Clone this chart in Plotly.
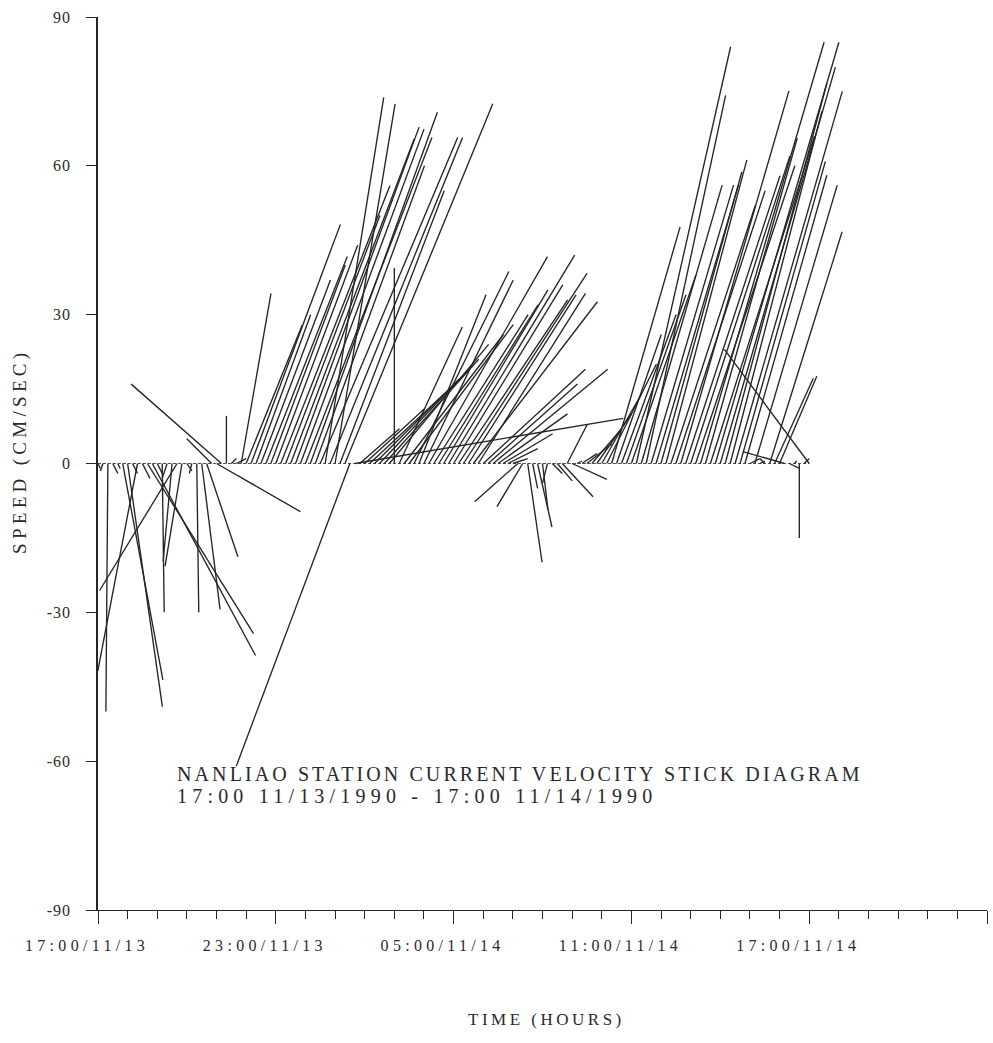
import plotly.graph_objects as go

# Current meter record, one sample every 10 minutes from 17:00 11/13/1990
SAMPLE_MINUTES = 10

# East (u) and north (v) velocity components, cm/s
east_cms = [
    0.5, -0.5, -0.4, 1.0, 0.5, 8.1, 7.0, 1.0, -8.0, 1.5,
    21.4, 20.8, 1.0, 0.4, -1.0, -1.8, -15.6, -3.4, 1.0, -0.5,
    0.4, 3.7, 6.3, -5.0, 16.9, -18.2, 0.0, 1.0, 2.0, 6.0,
    11.3, 18.0, 11.0, 14.0, 16.4, 15.0, 16.5, 22.0, 19.0, 24.9,
    24.9, 24.9, 25.5, 25.6, 22.0, 27.7, 11.8, 26.7, 12.1, 21.0,
    29.8, -22.9, 54.1, 8.0, 12.0, 15.0, 17.0, 18.0, 19.0, 20.0,
    0.0, 12.7, 20.0, 21.0, 19.1, 13.5, 18.0, 23.9, 19.0, 20.0,
    21.0, 25.4, 22.0, 22.0, 24.9, 21.7, 25.0, 21.6, 20.6, 18.0,
    23.1, 14.0, 10.0, 6.0, 3.0, -8.7, -5.2, 2.9, 1.0, 2.9,
    1.1, -1.0, 2.0, 3.0, 6.2, 4.0, 7.0, 1.0, 3.0, 5.0,
    6.0, 7.0, 8.0, 10.0, 13.8, 9.0, 11.0, 12.0, 13.0, 19.0,
    16.3, 16.0, 16.6, 16.6, 16.3, 16.3, 17.0, 18.0, 21.8, 19.0,
    20.0, 20.0, 24.9, 18.5, 21.0, 24.9, 23.2, 20.5, 18.5, 21.6,
    17.2, 16.5, 2.0, 16.6, 1.0, -1.0, 14.6, 7.8, 7.5, -8.4,
    2.0, 0.5, 0.0, 1.0, -17.1,
]
north_cms = [
    -1.0, -1.5, -50.0, -2.0, -1.0, -43.6, -49.0, -2.0, -41.8, -3.0,
    -34.3, -38.7, -2.0, -30.0, -3.0, -19.7, -25.6, -20.7, -1.5, -2.0,
    -30.0, -29.4, -18.8, 5.0, -9.7, 16.0, 9.6, 1.0, 1.0, 34.3,
    27.9, 48.2, 30.0, 37.0, 41.7, 40.0, 44.0, 56.0, 50.0, 65.4,
    67.8, 67.4, 65.7, 70.8, 60.0, 65.7, 73.8, 65.7, 72.5, 55.0,
    72.5, -61.0, 9.1, 7.0, 11.0, 14.0, 17.0, 19.0, 21.0, 24.0,
    39.4, 27.5, 26.0, 28.0, 38.7, 34.0, 37.0, 41.7, 30.0, 32.0,
    35.0, 42.0, 36.0, 33.0, 38.3, 34.0, 32.6, 34.3, 19.0, 16.0,
    19.0, 10.0, 6.0, 3.0, 1.0, -7.7, -8.7, -19.9, -5.0, -12.8,
    -9.3, -4.0, -2.0, -3.5, -6.7, 7.8, -3.2, 0.5, 2.0, 4.0,
    7.0, 10.0, 14.0, 20.0, 47.7, 26.0, 30.0, 34.0, 38.0, 84.0,
    56.1, 74.2, 56.1, 56.1, 58.8, 61.2, 52.0, 55.0, 75.1, 58.0,
    62.0, 60.0, 84.9, 65.6, 66.0, 84.9, 79.9, 76.7, 71.0, 75.0,
    60.9, 58.1, 1.0, 56.1, 0.5, 1.0, 46.7, 17.2, 17.6, 2.4,
    -1.0, 0.5, -15.0, 1.0, 23.0,
]

hours = [i * SAMPLE_MINUTES / 60 for i in range(len(east_cms))]

tick_hours = [0, 6, 12, 18, 24, 30]
tick_labels = ["17:00/11/13", "23:00/11/13", "05:00/11/14",
               "11:00/11/14", "17:00/11/14", ""]
speed_ticks = [90, 60, 30, 0, -30, -60, -90]
speed_labels = ["90", "60", "30", "0", "-30", "-60", "-90"]

title_lines = ["NANLIAO STATION CURRENT VELOCITY STICK DIAGRAM",
               "17:00 11/13/1990 - 17:00 11/14/1990"]
title_spacing = [3.1, 5.2]

W, H = 993, 1043
MARGIN = dict(l=98, r=6, t=17, b=133)
X_RANGE = [0, 30]
Y_RANGE = [-90, 90]
FONT = "Liberation Serif"
INK = "#252525"
TEXT = "#2a2a2a"

# Sticks use the same pixel scale horizontally and vertically
plot_w = W - MARGIN["l"] - MARGIN["r"]
plot_h = H - MARGIN["t"] - MARGIN["b"]
px_per_hour = plot_w / (X_RANGE[1] - X_RANGE[0])
px_per_cms = plot_h / (Y_RANGE[1] - Y_RANGE[0])
hours_per_cms = px_per_cms / px_per_hour

xs, ys = [], []
for t, u, v in zip(hours, east_cms, north_cms):
    xs += [t, t + u * hours_per_cms, None]
    ys += [0, v, None]


def spaced(text, gap):
    return f'<span style="letter-spacing:{gap}px">{text}</span>'


fig = go.Figure()
fig.add_trace(go.Scatter(
    x=[hours[0], hours[-1]], y=[0, 0], mode="lines",
    line=dict(color="#555555", width=1, dash="3px,2px"),
    hoverinfo="skip", showlegend=False))
fig.add_trace(go.Scatter(
    x=xs, y=ys, mode="lines",
    line=dict(color=INK, width=1.35),
    hoverinfo="skip", showlegend=False))

fig.update_layout(
    width=W, height=H, margin=MARGIN,
    paper_bgcolor="white", plot_bgcolor="white",
    font=dict(family=FONT, color=TEXT, size=16),
    showlegend=False,
)
fig.update_xaxes(
    range=X_RANGE, showgrid=False, zeroline=False,
    showline=True, linecolor=INK, linewidth=1.4,
    tickmode="array", tickvals=tick_hours,
    ticktext=[spaced(s, 4.3) for s in tick_labels],
    ticks="outside", ticklen=13, tickwidth=1.3, tickcolor=INK,
    ticklabelshift=-11, ticklabelstandoff=8,
    tickfont=dict(family=FONT, size=16, color=TEXT),
    minor=dict(dtick=1, ticks="outside", ticklen=8, tickwidth=1.2,
               tickcolor=INK, showgrid=False),
)
fig.update_yaxes(
    range=Y_RANGE, showgrid=False, zeroline=False,
    showline=True, linecolor=INK, linewidth=1.6,
    tickmode="array", tickvals=speed_ticks,
    ticktext=[spaced(s, 1.0) + "&nbsp;&nbsp;&nbsp;" for s in speed_labels],
    ticks="outside", ticklen=10, tickwidth=1.2, tickcolor=INK,
    tickfont=dict(family=FONT, size=16, color=TEXT),
)

for line_text, gap, yv in zip(title_lines, title_spacing, [-62.5, -67.0]):
    fig.add_annotation(
        x=2.6, y=yv, xref="x", yref="y", xanchor="left", yanchor="middle",
        text=spaced(line_text, gap), showarrow=False,
        font=dict(family=FONT, size=20, color=TEXT))

fig.add_annotation(
    x=0.504, y=-0.123, xref="paper", yref="paper",
    xanchor="center", yanchor="middle",
    text=spaced("TIME (HOURS)", 3.5), showarrow=False,
    font=dict(family=FONT, size=17, color=TEXT))
fig.add_annotation(
    x=-0.0877, y=0.513, xref="paper", yref="paper",
    xanchor="center", yanchor="middle", textangle=-90,
    text=spaced("SPEED (CM/SEC)", 4.3), showarrow=False,
    font=dict(family=FONT, size=19, color=TEXT))

fig.write_html("out.html")
